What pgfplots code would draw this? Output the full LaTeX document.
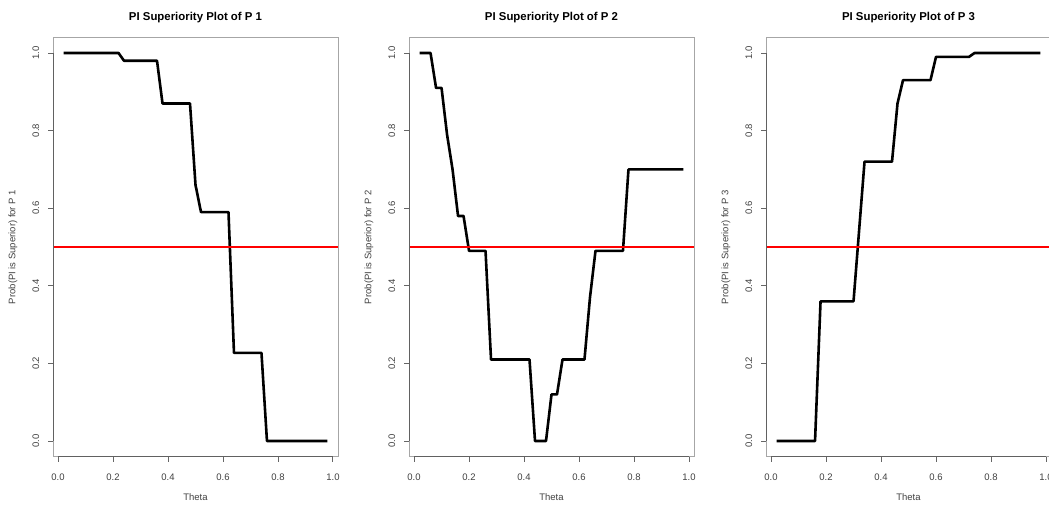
\documentclass[border=0pt]{standalone}
\usepackage{fontspec}
\setmainfont{Liberation Sans}
\usepackage{pgfplots}
\usepackage{pgfplotstable}
\pgfplotsset{compat=1.18}

\pgfplotstableread{
x y
0.02 1
0.04 1
0.06 1
0.08 1
0.10 1
0.12 1
0.14 1
0.16 1
0.18 1
0.20 1
0.22 1
0.24 0.98
0.26 0.98
0.28 0.98
0.30 0.98
0.32 0.98
0.34 0.98
0.36 0.98
0.38 0.87
0.40 0.87
0.42 0.87
0.44 0.87
0.46 0.87
0.48 0.87
0.50 0.66
0.52 0.59
0.54 0.59
0.56 0.59
0.58 0.59
0.60 0.59
0.62 0.59
0.64 0.227
0.66 0.227
0.68 0.227
0.70 0.227
0.72 0.227
0.74 0.227
0.76 0
0.78 0
0.80 0
0.82 0
0.84 0
0.86 0
0.88 0
0.90 0
0.92 0
0.94 0
0.96 0
0.98 0
}\dataA

\pgfplotstableread{
x y
0.02 1
0.04 1
0.06 1
0.08 0.91
0.10 0.91
0.12 0.79
0.14 0.70
0.16 0.58
0.18 0.58
0.20 0.49
0.22 0.49
0.24 0.49
0.26 0.49
0.28 0.21
0.30 0.21
0.32 0.21
0.34 0.21
0.36 0.21
0.38 0.21
0.40 0.21
0.42 0.21
0.44 0
0.46 0
0.48 0
0.50 0.12
0.52 0.12
0.54 0.21
0.56 0.21
0.58 0.21
0.60 0.21
0.62 0.21
0.64 0.37
0.66 0.49
0.68 0.49
0.70 0.49
0.72 0.49
0.74 0.49
0.76 0.49
0.78 0.70
0.80 0.70
0.82 0.70
0.84 0.70
0.86 0.70
0.88 0.70
0.90 0.70
0.92 0.70
0.94 0.70
0.96 0.70
0.98 0.70
}\dataB

\pgfplotstableread{
x y
0.02 0
0.04 0
0.06 0
0.08 0
0.10 0
0.12 0
0.14 0
0.16 0
0.18 0.36
0.20 0.36
0.22 0.36
0.24 0.36
0.26 0.36
0.28 0.36
0.30 0.36
0.32 0.54
0.34 0.72
0.36 0.72
0.38 0.72
0.40 0.72
0.42 0.72
0.44 0.72
0.46 0.87
0.48 0.93
0.50 0.93
0.52 0.93
0.54 0.93
0.56 0.93
0.58 0.93
0.60 0.99
0.62 0.99
0.64 0.99
0.66 0.99
0.68 0.99
0.70 0.99
0.72 0.99
0.74 1
0.76 1
0.78 1
0.80 1
0.82 1
0.84 1
0.86 1
0.88 1
0.90 1
0.92 1
0.94 1
0.96 1
0.98 1
}\dataC

\pgfplotsset{rplot/.style={
  scale only axis, width=285pt, height=419pt,
  xmin=-0.0184, xmax=1.0184, ymin=-0.04, ymax=1.04,
  clip=false,
  axis line style={draw=black!35, line width=0.9pt},
  xtick={0,0.2,0.4,0.6,0.8,1}, ytick={0,0.2,0.4,0.6,0.8,1},
  tick align=outside, major tick length=5pt,
  tick style={black!60, line width=0.9pt},
  xtick pos=left, ytick pos=left,
  /pgf/number format/assume math mode=true,
  /pgf/number format/fixed, /pgf/number format/fixed zerofill, /pgf/number format/precision=1,
  tick label style={font=\fontsize{9.5}{11}\selectfont, text=black!75},
  xticklabel shift=8.8pt,
  yticklabel style={rotate=90, anchor=south},
  yticklabel shift=5.3pt,
  label style={font=\fontsize{9.5}{11}\selectfont, text=black!75},
  xlabel={Theta},
  xlabel style={at={(axis description cs:0.5,-0.0967)}, anchor=center},
  ylabel style={at={(axis description cs:-0.1404,0.5)}, anchor=center, rotate=0},
  title style={font=\bfseries\fontsize{11.4}{13}\selectfont, at={(axis description cs:0.5,1.033)}, anchor=center, yshift=0pt},
}}

\newcommand{\raxes}{%
  \draw[black!62, line width=0.9pt] (axis cs:0,-0.04) -- (axis cs:1,-0.04);
  \draw[black!62, line width=0.9pt] (axis cs:-0.0184,0) -- (axis cs:-0.0184,1);
}

\begin{document}
\begin{tikzpicture}
\useasboundingbox (0,0) rectangle (1049pt,507pt);

\begin{axis}[rplot, at={(53pt,50.5pt)}, anchor=south west,
  title={PI Superiority Plot of P 1}, ylabel={Prob(PI is Superior) for P 1}]
\addplot[black, line width=2.6pt, line join=round] table[x=x,y=y] {\dataA};
\addplot[red, line width=2.5pt] coordinates {(-0.0184,0.5) (1.0184,0.5)};
\raxes
\end{axis}

\begin{axis}[rplot, at={(409pt,50.5pt)}, anchor=south west,
  title={PI Superiority Plot of P 2}, ylabel={Prob(PI is Superior) for P 2}]
\addplot[black, line width=2.6pt, line join=round] table[x=x,y=y] {\dataB};
\addplot[red, line width=2.5pt] coordinates {(-0.0184,0.5) (1.0184,0.5)};
\raxes
\end{axis}

\begin{axis}[rplot, at={(766pt,50.5pt)}, anchor=south west,
  title={PI Superiority Plot of P 3}, ylabel={Prob(PI is Superior) for P 3}]
\addplot[black, line width=2.6pt, line join=round] table[x=x,y=y] {\dataC};
\addplot[red, line width=2.5pt] coordinates {(-0.0184,0.5) (1.0184,0.5)};
\raxes
\end{axis}
\end{tikzpicture}
\end{document}
